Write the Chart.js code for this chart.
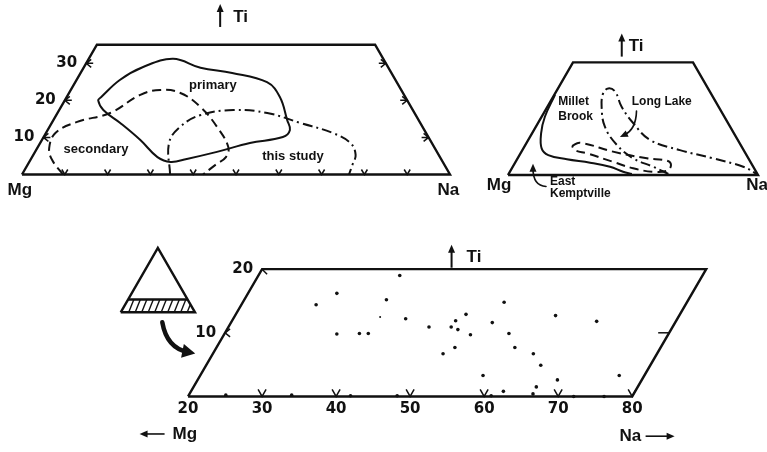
<!DOCTYPE html>
<html>
<head>
<meta charset="utf-8">
<title>Mg - Ti - Na ternary plots</title>
<style>
  html, body { margin: 0; padding: 0; background: #fff; }
  #wrap { position: relative; width: 767px; height: 452px; }
  #wrap canvas { position: absolute; left: 0; top: 0; }
</style>
</head>
<body>
<div id="wrap">
  <canvas id="panelA" width="767" height="452"></canvas>
  <canvas id="panelB" width="767" height="452"></canvas>
  <canvas id="panelC" width="767" height="452"></canvas>
  <canvas id="panelD" width="767" height="452"></canvas>
</div>
<script src="https://cdn.jsdelivr.net/npm/chart.js@4.4.0/dist/chart.umd.min.js"></script>
<script>
// All compositions are [Na, Ti] in percent (Mg is the remainder)

// Upper-left diagram: outlined fields
const primaryField = [
  [8, 20.8], [10.1, 25.5], [13.8, 29], [19.7, 31.2], [27.3, 28.8], [35.4, 27.4],
  [44.8, 24.9], [49.8, 20.9], [54.6, 14.7], [56.6, 12], [55.9, 10.1], [49, 8.5],
  [42.5, 6.1], [36.4, 4.2], [33, 3.4], [29.3, 4.7], [23, 9.3], [16, 13.9],
  [10.3, 17.4], [7.8, 20],
];
const secondaryField = [
  [9.6, 0], [5.1, 3.9], [2.8, 7.1], [2.2, 11.2], [5.8, 14.2], [12.3, 16.6],
  [16.9, 21.5], [20.9, 22.8], [26, 22], [32.6, 18.2], [39.2, 12.8], [44.5, 7.4],
  [45.3, 4.7], [43.9, 2.6], [42.3, 0],
];
const thisStudyField = [
  [34.6, 0], [30.1, 8.5], [30.5, 12.8], [33.6, 16], [40.7, 17.4], [49, 16.6],
  [58.1, 13.9], [67, 11.2], [72.5, 8.5], [75.3, 5.3], [75.9, 2.6], [76.4, 0],
];
const tiTopA = 35;
const tiTicksA = [10, 20, 30];
const naTicksA = [10, 20, 30, 40, 50, 60, 70, 80, 90];

// Upper-right diagram: deposit trends
const eastKemptville = [
  [0.3, 37], [1.3, 26.9], [3.6, 19.3], [7.3, 12.3], [11.5, 9.2], [19.9, 7.3],
  [30, 5.7], [38.9, 3.8], [45.3, 1.5], [49.3, 0.5],
];
const milletBrook = [
  [18.9, 13.4], [21.3, 14.9], [36.6, 10.8], [51.7, 7.7], [60.3, 6.6], [62.9, 4.6],
  [62.6, 2], [57.2, 1.5], [48.5, 3.1], [38.9, 6.1], [26.6, 10], [21, 11.5],
];
const longLake = [
  [63.9, 0.5], [56.2, 3.8], [46.2, 7.7], [36.6, 13.9], [27.6, 22.3], [21.7, 31.5],
  [19.2, 37.7], [20.1, 40], [23.6, 38.5], [29.7, 31.5], [38.2, 23.9], [48.7, 16.2],
  [63, 11.5], [78.2, 7.7], [92.2, 3.8], [99.3, 0.5],
];
const tiTopB = 52;

// Lower diagram: analyses, enlarged part Na 20-80, Ti 0-20
const sampleNa = [
  39.1, 32.0, 30.1, 39.2, 43.3, 35.2, 38.2, 39.4, 25.0, 33.9, 41.9, 48.2,
  47.1, 50.1, 50.2, 51.2, 51.1, 53.3, 55.3, 55.3, 58.4, 60.3, 52.2, 51.1,
  58.2, 63.3, 65.2, 63.3, 69.3, 68.6, 76.6, 66.3, 66.4, 62.2, 60.9, 72.1, 76.2,
];
const sampleTi = [
  19.0, 16.2, 14.4, 15.2, 12.2, 9.8, 9.9, 9.9, 0.2, 0.2, 0.1, 0.1,
  10.9, 10.9, 11.9, 10.5, 12.9, 9.7, 11.6, 14.8, 9.9, 7.7, 7.7, 6.7,
  3.3, 6.7, 4.9, 12.7, 11.8, 2.6, 3.3, 1.5, 0.4, 0.8, 0.1, 0, 0,
];
const minorNa = [39.7];
const minorTi = [12.5];
const naRangeC = [20, 80];
const tiTopC = 20;
const naTicksC = [20, 30, 40, 50, 60, 70, 80];
const tiTicksC = [10, 20];

// Key triangle: hatched band marks the enlarged Ti range
const bandTi = 20;

const W = 767, H = 452;
const INK = '#111';
const BIG_FONT = 'bold 17px "Liberation Sans", Arial, sans-serif';
const LABEL_FONT = 'bold 13px "Liberation Sans", Arial, sans-serif';
const SMALL_FONT = 'bold 12px "Liberation Sans", Arial, sans-serif';
const NUM_FONT = 'bold 15px "DejaVu Sans", sans-serif';

// where each diagram sits: x of Na=x0 corner, y of base line, px per percent
const geomA = { left: 22, base: 174.5, unit: 4.28, x0: 0 };
const geomB = { left: 508, base: 175, unit: 2.5, x0: 0 };
const geomC = { left: 186, base: 399.5, unit: 7.48, x0: 20 };
const geomD = { left: 120.7, base: 312.3, unit: 0.743, x0: 0 };

// ternary -> cartesian (x along base in percent, y = Ti)
const toXY = ([na, ti]) => ({ x: na + ti / 2, y: ti });

function outline(points, dash, closed) {
  const data = points.map(toXY);
  if (closed) data.push(data[0]);
  return {
    data, showLine: true, borderColor: INK, borderWidth: 2, borderDash: dash || [],
    pointRadius: 0, tension: 0.4, fill: false,
  };
}

function frame(points) {
  return {
    data: points.map(toXY), showLine: true, borderColor: INK, borderWidth: 2.4,
    pointRadius: 0, tension: 0, fill: false, borderJoinStyle: 'miter',
  };
}

function P(chart, na, ti) {
  return [chart.scales.x.getPixelForValue(na + ti / 2), chart.scales.y.getPixelForValue(ti)];
}
function Q(chart, x, ti) {
  return [chart.scales.x.getPixelForValue(x), chart.scales.y.getPixelForValue(ti)];
}

function text(ctx, str, x, y, font, align) {
  ctx.font = font;
  ctx.textAlign = align || 'center';
  ctx.textBaseline = 'middle';
  ctx.fillText(str, x, y);
}

function drawLabels(chart, labels) {
  labels.forEach((l) => {
    const [x, y] = Q(chart, l.x, l.ti);
    text(chart.ctx, l.text, x, y, l.font, l.align);
  });
}

function arrowHead(ctx, x, y, ang, len, half) {
  const c = Math.cos(ang), s = Math.sin(ang);
  ctx.beginPath();
  ctx.moveTo(x, y);
  ctx.lineTo(x - len * c + half * s, y - len * s - half * c);
  ctx.lineTo(x - len * c - half * s, y - len * s + half * c);
  ctx.closePath();
  ctx.fill();
}

// "↑ Ti" heading above a diagram
function tiTitle(chart, anchor, gap) {
  const ctx = chart.ctx;
  const [x, y] = Q(chart, anchor.x, anchor.ti);
  ctx.lineWidth = 2;
  ctx.beginPath();
  ctx.moveTo(x, y + 10);
  ctx.lineTo(x, y - 6);
  ctx.stroke();
  arrowHead(ctx, x, y - 13, -Math.PI / 2, 8, 3.5);
  text(ctx, 'Ti', x + gap, y, BIG_FONT, 'left');
}

function chevron(ctx, vx, vy, dir, stem) {
  ctx.beginPath();
  ctx.moveTo(vx + dir * 5, vy - 4);
  ctx.lineTo(vx, vy);
  ctx.lineTo(vx + dir * 5, vy + 4);
  if (stem) {
    ctx.moveTo(vx, vy);
    ctx.lineTo(vx + dir * stem, vy);
  }
  ctx.stroke();
}

function vTick(ctx, vx, vy, half, h) {
  ctx.beginPath();
  ctx.moveTo(vx - half, vy - h);
  ctx.lineTo(vx, vy);
  ctx.lineTo(vx + half, vy - h);
  ctx.stroke();
}

function curvedArrow(ctx, p0, c, p1, width, len, half) {
  ctx.lineWidth = width;
  ctx.lineCap = 'round';
  ctx.beginPath();
  ctx.moveTo(p0[0], p0[1]);
  ctx.quadraticCurveTo(c[0], c[1], p1[0], p1[1]);
  ctx.stroke();
  ctx.lineCap = 'butt';
  const ang = Math.atan2(p1[1] - c[1], p1[0] - c[0]);
  arrowHead(ctx, p1[0] + len * 0.6 * Math.cos(ang), p1[1] + len * 0.6 * Math.sin(ang), ang, len, half);
}

function ternaryChart(id, geom, datasets, decorate) {
  const k = geom.unit * Math.sqrt(3) / 2;
  return new Chart(document.getElementById(id), {
    type: 'scatter',
    data: { datasets },
    options: {
      responsive: false,
      animation: false,
      devicePixelRatio: 1,
      layout: { padding: 0 },
      scales: {
        x: { type: 'linear', display: false, bounds: 'data',
          min: geom.x0 - geom.left / geom.unit, max: geom.x0 + (W - geom.left) / geom.unit },
        y: { type: 'linear', display: false, bounds: 'data',
          min: (geom.base - H) / k, max: geom.base / k },
      },
      plugins: { legend: { display: false }, tooltip: { enabled: false } },
    },
    plugins: [{
      id: id + 'Decor',
      afterDatasetsDraw(chart) {
        const ctx = chart.ctx;
        ctx.save();
        ctx.strokeStyle = INK;
        ctx.fillStyle = INK;
        ctx.lineWidth = 1.5;
        decorate(chart, ctx);
        ctx.restore();
      },
    }],
  });
}

// ---------- upper left ----------
ternaryChart('panelA', geomA, [
  frame([[0, 0], [0, tiTopA], [100 - tiTopA, tiTopA], [100, 0], [0, 0]]),
  outline(primaryField, [], true),
  outline(secondaryField, [9, 5], false),
  outline(thisStudyField, [10, 4, 2, 4], false),
], (chart, ctx) => {
  tiTicksA.forEach((t) => {
    const [lx, ly] = P(chart, 0, t);
    chevron(ctx, lx, ly, 1, 7);
    const [rx, ry] = P(chart, 100 - t, t);
    chevron(ctx, rx, ry, -1, 7);
    text(ctx, String(t), lx - 9, ly, NUM_FONT, 'right');
  });
  naTicksA.forEach((n) => {
    const [x, y] = P(chart, n, 0);
    vTick(ctx, x, y, 3, 5);
  });
  drawLabels(chart, [
    { text: 'primary', x: 44.6, ti: 24.1, font: LABEL_FONT },
    { text: 'secondary', x: 17.3, ti: 6.9, font: LABEL_FONT },
    { text: 'this study', x: 63.3, ti: 4.8, font: LABEL_FONT },
    { text: 'Mg', x: -0.5, ti: -4.4, font: BIG_FONT },
    { text: 'Na', x: 99.6, ti: -4.2, font: BIG_FONT },
  ]);
  tiTitle(chart, { x: 46.3, ti: 42.5 }, 13);
});

// ---------- upper right ----------
ternaryChart('panelB', geomB, [
  frame([[0, 0], [0, tiTopB], [100 - tiTopB, tiTopB], [100, 0], [0, 0]]),
  outline(eastKemptville, [], false),
  outline(milletBrook, [9, 5], true),
  outline(longLake, [10, 4, 2, 4], false),
], (chart, ctx) => {
  drawLabels(chart, [
    { text: 'Millet', x: 20.1, ti: 33.9, font: SMALL_FONT, align: 'left' },
    { text: 'Brook', x: 20.1, ti: 26.9, font: SMALL_FONT, align: 'left' },
    { text: 'Long Lake', x: 49.5, ti: 33.9, font: SMALL_FONT, align: 'left' },
    { text: 'East', x: 16.8, ti: -3.1, font: SMALL_FONT, align: 'left' },
    { text: 'Kemptville', x: 16.8, ti: -8.5, font: SMALL_FONT, align: 'left' },
    { text: 'Mg', x: -3.6, ti: -4.6, font: BIG_FONT },
    { text: 'Na', x: 99.6, ti: -4.6, font: BIG_FONT },
  ]);
  ctx.fillStyle = INK;
  curvedArrow(ctx, Q(chart, 51.4, 29.5), Q(chart, 51.2, 21), Q(chart, 46.5, 18.5), 1.6, 8, 3.5);
  curvedArrow(ctx, Q(chart, 15.2, -5.3), Q(chart, 10, -5), Q(chart, 10, 3), 1.6, 8, 3.5);
  tiTitle(chart, { x: 45.5, ti: 59.3 }, 7);
});

// ---------- lower enlarged diagram ----------
const [naLo, naHi] = naRangeC;
ternaryChart('panelC', geomC, [
  frame([[naLo, 0], [naLo, tiTopC], [naHi, tiTopC], [naHi, 0], [naLo, 0]]),
  {
    data: sampleNa.map((na, i) => toXY([na, sampleTi[i]])),
    pointRadius: 1.8, pointBackgroundColor: INK, pointBorderWidth: 0, showLine: false,
  },
  {
    data: minorNa.map((na, i) => toXY([na, minorTi[i]])),
    pointRadius: 1, pointBackgroundColor: INK, pointBorderWidth: 0, showLine: false,
  },
], (chart, ctx) => {
  naTicksC.forEach((n) => {
    const [x, y] = P(chart, n, 0);
    if (n > naLo) vTick(ctx, x, y, 4, 7);
    text(ctx, String(n), x, y + 13, NUM_FONT, 'center');
  });
  tiTicksC.forEach((t) => {
    const [lx, ly] = P(chart, naLo, t);
    if (t < tiTopC) {
      chevron(ctx, lx, ly, 1, 0);
      const [rx, ry] = P(chart, naHi, t);
      ctx.beginPath();
      ctx.moveTo(rx, ry);
      ctx.lineTo(rx - 11, ry);
      ctx.stroke();
    } else {
      ctx.beginPath();
      ctx.moveTo(lx, ly);
      ctx.lineTo(lx + 5, ly + 5);
      ctx.stroke();
    }
    text(ctx, String(t), lx - 9, ly, NUM_FONT, 'right');
  });
  tiTitle(chart, { x: 55.6, ti: 21.8 }, 15);

  // "← Mg" and "Na →"
  const [mx, my] = Q(chart, 13.45, -5.9);
  ctx.lineWidth = 1.6;
  ctx.beginPath();
  ctx.moveTo(mx + 5, my);
  ctx.lineTo(mx + 25, my);
  ctx.stroke();
  arrowHead(ctx, mx, my, Math.PI, 8, 3.5);
  text(ctx, 'Mg', mx + 33, my, BIG_FONT, 'left');
  const [nx, ny] = Q(chart, 78.3, -6.25);
  text(ctx, 'Na', nx, ny, BIG_FONT, 'left');
  ctx.beginPath();
  ctx.moveTo(nx + 26, ny);
  ctx.lineTo(nx + 48, ny);
  ctx.stroke();
  arrowHead(ctx, nx + 55, ny, 0, 8, 3.5);
});

// ---------- key triangle with hatched band ----------
ternaryChart('panelD', geomD, [
  frame([[0, 0], [0, 100], [100, 0], [0, 0]]),
  frame([[0, bandTi], [100 - bandTi, bandTi]]),
], (chart, ctx) => {
  const corners = [P(chart, 0, 0), P(chart, 0, bandTi), P(chart, 100 - bandTi, bandTi), P(chart, 100, 0)];
  ctx.save();
  ctx.beginPath();
  corners.forEach(([x, y], i) => (i ? ctx.lineTo(x, y) : ctx.moveTo(x, y)));
  ctx.closePath();
  ctx.clip();
  const yb = corners[0][1], yt = corners[1][1];
  ctx.lineWidth = 1.4;
  for (let x = corners[0][0] + 8; x < corners[3][0]; x += 6.5) {
    ctx.beginPath();
    ctx.moveTo(x, yb);
    ctx.lineTo(x + (yb - yt) * 0.4, yt);
    ctx.stroke();
  }
  ctx.restore();
  ctx.fillStyle = INK;
  ctx.strokeStyle = INK;
  curvedArrow(ctx, Q(chart, 56, -15.5), Q(chart, 62, -55), Q(chart, 90, -61.5), 4.5, 13, 7);
});
</script>
</body>
</html>
